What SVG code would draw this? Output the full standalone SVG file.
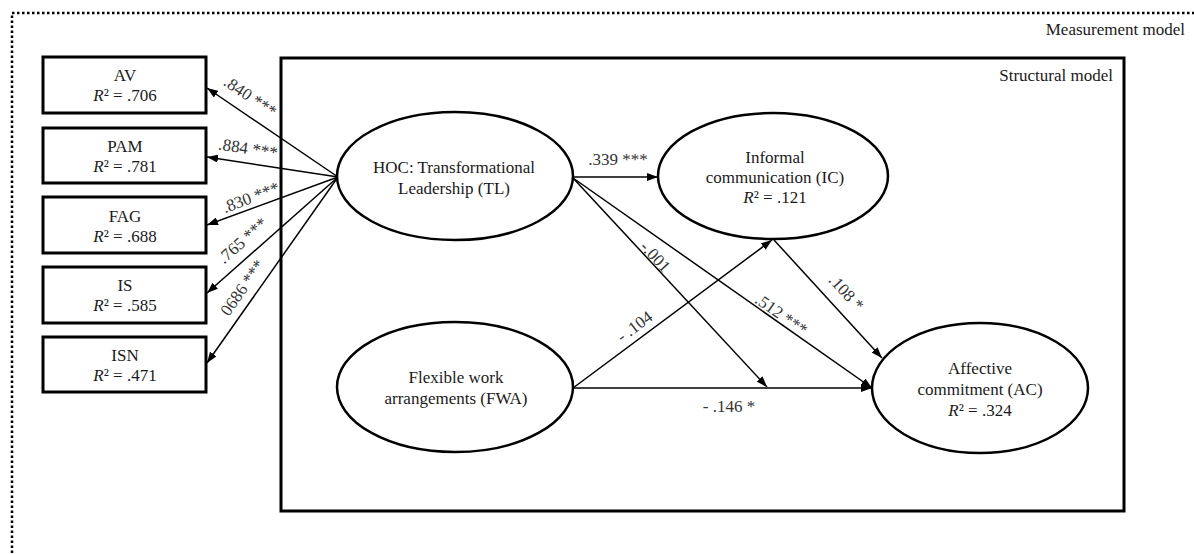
<svg xmlns="http://www.w3.org/2000/svg" width="1194" height="554" viewBox="0 0 1194 554">
<style>
  text { font-family: "Liberation Serif", "Times New Roman", serif; font-size: 17px; fill: #1a1a1a; }
  .lbl { fill: #333; text-anchor: middle; }
  .ctr { text-anchor: middle; }
  .box { fill: #fff; stroke: #000; stroke-width: 3; }
  .ell { fill: #fff; stroke: #000; stroke-width: 2.5; }
  .con { stroke: #000; stroke-width: 1.5; fill: none; marker-end: url(#arr); }
  .it { font-style: italic; }
</style>
<defs>
  <marker id="arr" markerUnits="userSpaceOnUse" markerWidth="11" markerHeight="8" refX="11" refY="4" orient="auto">
    <path d="M0,0 L11,4 L0,8 z" fill="#000"/>
  </marker>
</defs>
<rect width="1194" height="554" fill="#fff"/>
<g id="measurement-frame">
  <rect x="12" y="13" width="1250" height="620" fill="none" stroke="#000" stroke-width="2.5" stroke-dasharray="2.5 2.5"/>
  <text x="1185" y="35" text-anchor="end">Measurement model</text>
</g>
<g id="structural-frame">
  <rect x="281" y="58" width="843" height="453" fill="none" stroke="#000" stroke-width="3"/>
  <text x="1113" y="81" text-anchor="end">Structural model</text>
</g>
<g id="connectors">
  <line class="con" x1="338" y1="177" x2="207" y2="88"/>
  <line class="con" x1="338" y1="177" x2="207" y2="157"/>
  <line class="con" x1="338" y1="177" x2="207" y2="225"/>
  <line class="con" x1="338" y1="177" x2="207" y2="293"/>
  <line class="con" x1="338" y1="177" x2="207" y2="363"/>
  <line class="con" x1="573" y1="177" x2="658" y2="177"/>
  <line class="con" x1="573" y1="178" x2="872" y2="388"/>
  <line class="con" x1="573" y1="178" x2="767" y2="387"/>
  <line class="con" x1="573" y1="388" x2="772" y2="240"/>
  <line class="con" x1="573" y1="388" x2="872" y2="388"/>
  <line class="con" x1="774" y1="240" x2="882" y2="358"/>
  <text class="lbl" x="250" y="102" transform="rotate(34 250 97)">.840 ***</text>
  <text class="lbl" x="248" y="154" transform="rotate(8.8 248 149)">.884 ***</text>
  <text class="lbl" x="251" y="203" transform="rotate(-20.6 251 198)">.830 ***</text>
  <text class="lbl" x="243" y="246" transform="rotate(-41.7 243 241)">.765 ***</text>
  <text class="lbl" x="243" y="293" transform="rotate(-55 243 288)">0686 ***</text>
  <text class="lbl" x="618" y="165">.339 ***</text>
  <text class="lbl" x="655" y="262" transform="rotate(47 655 257)">-.001</text>
  <text class="lbl" x="781" y="320" transform="rotate(35 781 315)">.512 ***</text>
  <text class="lbl" x="635" y="332" transform="rotate(-36.6 635 327)">- .104</text>
  <text class="lbl" x="729" y="412">- .146 *</text>
  <text class="lbl" x="846" y="298" transform="rotate(47 846 293)">.108 *</text>
</g>
<g id="AV">
  <rect class="box" x="43" y="57" width="163" height="56"/>
  <text class="ctr" x="125" y="81">AV</text>
  <text class="ctr" x="125" y="101"><tspan class="it">R</tspan>² = .706</text>
</g>
<g id="PAM">
  <rect class="box" x="43" y="128" width="163" height="55"/>
  <text class="ctr" x="125" y="152">PAM</text>
  <text class="ctr" x="125" y="172"><tspan class="it">R</tspan>² = .781</text>
</g>
<g id="FAG">
  <rect class="box" x="43" y="197" width="163" height="56"/>
  <text class="ctr" x="125" y="222">FAG</text>
  <text class="ctr" x="125" y="242"><tspan class="it">R</tspan>² = .688</text>
</g>
<g id="IS">
  <rect class="box" x="43" y="267" width="163" height="56"/>
  <text class="ctr" x="125" y="291">IS</text>
  <text class="ctr" x="125" y="311"><tspan class="it">R</tspan>² = .585</text>
</g>
<g id="ISN">
  <rect class="box" x="43" y="337" width="163" height="55"/>
  <text class="ctr" x="125" y="361">ISN</text>
  <text class="ctr" x="125" y="381"><tspan class="it">R</tspan>² = .471</text>
</g>
<g id="TL">
  <ellipse class="ell" cx="455" cy="176" rx="118" ry="64"/>
  <text class="ctr" x="454" y="173">HOC: Transformational</text>
  <text class="ctr" x="454" y="194">Leadership (TL)</text>
</g>
<g id="IC">
  <ellipse class="ell" cx="773" cy="176" rx="115" ry="63"/>
  <text class="ctr" x="775" y="163">Informal</text>
  <text class="ctr" x="775" y="183">communication (IC)</text>
  <text class="ctr" x="775" y="203"><tspan class="it">R</tspan>² = .121</text>
</g>
<g id="FWA">
  <ellipse class="ell" cx="455" cy="387" rx="118" ry="65"/>
  <text class="ctr" x="456" y="383">Flexible work</text>
  <text class="ctr" x="456" y="404">arrangements (FWA)</text>
</g>
<g id="AC">
  <ellipse class="ell" cx="980" cy="388" rx="108" ry="65"/>
  <text class="ctr" x="980" y="374">Affective</text>
  <text class="ctr" x="980" y="395">commitment (AC)</text>
  <text class="ctr" x="980" y="416"><tspan class="it">R</tspan>² = .324</text>
</g>
</svg>
